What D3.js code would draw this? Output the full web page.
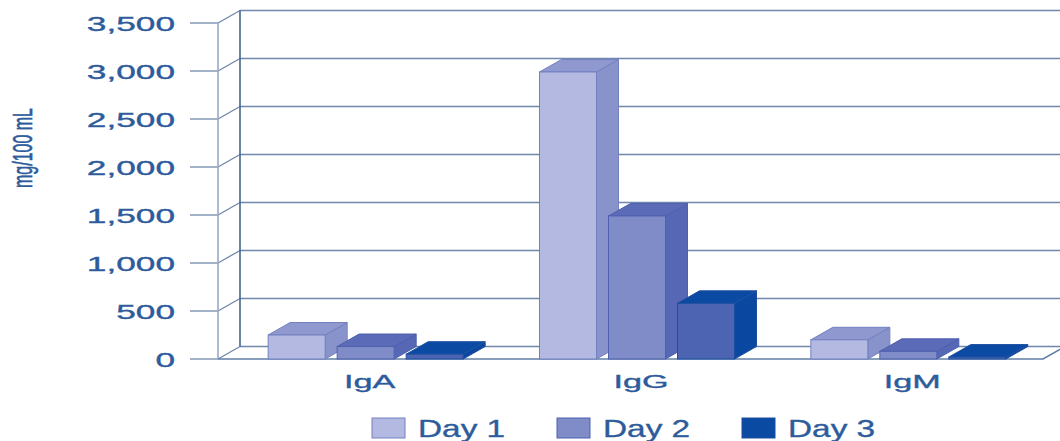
<!DOCTYPE html>
<html>
<head>
<meta charset="utf-8">
<script src="https://cdn.jsdelivr.net/npm/d3@7"></script>
<style>
  html, body { margin: 0; padding: 0; background: #fff; }
  text { font-family: "Liberation Sans", Arial, sans-serif; stroke: #2d5b9b; stroke-width: 0.35px; }
</style>
</head>
<body>
<svg id="chart" width="1060" height="441"></svg>
<script>
const categories = ["IgA", "IgG", "IgM"];
const series = ["Day 1", "Day 2", "Day 3"];
const day1 = [250, 2990, 200];
const day2 = [130, 1490, 80];
const day3 = [50, 580, 20];
const yTicks = [0, 500, 1000, 1500, 2000, 2500, 3000, 3500];

const values = [day1, day2, day3];
const faces = [
  { front: "#b4b9e1", top: "#8f99d0", side: "#8893cb", edge: "#7380c0" },
  { front: "#7f8cc8", top: "#5b6bb8", side: "#5667b5", edge: "#4e60ae" },
  { front: "#4c64b2", top: "#0b4aa2", side: "#0a47a0", edge: "#1d4fa0" }
];
const textColor = "#2d5b9b";
const gridColor = "#7088ac";

const svg = d3.select("#chart");

// depth offset of the 3D box
const dx = 22, dy = -12.5;
const axisX = 218, floorRight = 1043;

const y = d3.scaleLinear().domain([0, 3500]).range([359, 23]);
const x0 = d3.scaleBand().domain(categories).range([230, 1044]);
const groupW = 195;
const x1 = d3.scaleBand().domain(series).range([0, groupW]).paddingInner(12 / 69);

const grid = svg.append("g");

// back wall gridlines + left wall diagonals + tick marks
yTicks.forEach(t => {
  const yy = y(t);
  grid.append("line")
    .attr("x1", axisX + dx).attr("x2", 1070)
    .attr("y1", yy + dy).attr("y2", yy + dy)
    .attr("stroke", gridColor).attr("stroke-width", 1.3);
  grid.append("line")
    .attr("x1", axisX).attr("y1", yy)
    .attr("x2", axisX + dx).attr("y2", yy + dy)
    .attr("stroke", gridColor).attr("stroke-width", 1.3);
  grid.append("line")
    .attr("x1", 190).attr("x2", axisX)
    .attr("y1", yy).attr("y2", yy)
    .attr("stroke", gridColor).attr("stroke-width", 1.3);
});

// walls
grid.append("line")
  .attr("x1", axisX + dx).attr("x2", axisX + dx)
  .attr("y1", y(3500) + dy).attr("y2", y(0) + dy)
  .attr("stroke", "#46668f").attr("stroke-width", 1.6);
grid.append("line")
  .attr("x1", axisX).attr("x2", axisX)
  .attr("y1", y(3500)).attr("y2", y(0))
  .attr("stroke", "#9aa9c6").attr("stroke-width", 1.6);

// floor front edge
grid.append("path")
  .attr("d", `M${axisX},${y(0)} L${floorRight},${y(0)} L${floorRight + dx},${y(0) + dy}`)
  .attr("fill", "none")
  .attr("stroke", "#5f7ea6").attr("stroke-width", 1.6);

// tick labels
grid.selectAll(".tick-label")
  .data(yTicks)
  .join("text")
  .attr("class", "tick-label")
  .attr("transform", d => `translate(175,${y(d) + 7.5}) scale(1.72,1)`)
  .attr("text-anchor", "end")
  .attr("font-size", 20.5)
  .attr("fill", textColor)
  .text(d => d3.format(",")(d));

// y title
svg.append("text")
  .attr("transform", "translate(32,148) scale(1.75,1) rotate(-90)")
  .attr("text-anchor", "middle")
  .attr("font-size", 16)
  .attr("fill", textColor)
  .style("font-family", '"Liberation Sans Narrow", "Liberation Sans", Arial, sans-serif')
  .text("mg/100 mL");

// bars, left to right so each covers the side of the one before
const bars = svg.append("g");
categories.forEach((c, ci) => {
  const gx = x0(c) + x0.bandwidth() / 2 - groupW / 2;
  series.forEach((s, si) => {
    const v = values[si][ci];
    const f = faces[si];
    const x = gx + x1(s);
    const w = x1.bandwidth();
    const yt = y(v), yb = y(0);
    const g = bars.append("g");
    g.append("path")
      .attr("d", `M${x + w},${yt} L${x + w + dx},${yt + dy} L${x + w + dx},${yb + dy} L${x + w},${yb} Z`)
      .attr("fill", f.side).attr("stroke", f.edge).attr("stroke-width", 1);
    g.append("path")
      .attr("d", `M${x},${yt} L${x + dx},${yt + dy} L${x + w + dx},${yt + dy} L${x + w},${yt} Z`)
      .attr("fill", f.top).attr("stroke", f.edge).attr("stroke-width", 1);
    g.append("rect")
      .attr("x", x).attr("y", yt)
      .attr("width", w).attr("height", yb - yt)
      .attr("fill", f.front).attr("stroke", f.edge).attr("stroke-width", 1);
  });
});

// category labels
svg.selectAll(".cat-label")
  .data(categories)
  .join("text")
  .attr("class", "cat-label")
  .attr("transform", d => `translate(${x0(d) + x0.bandwidth() / 2 + 4},388) scale(1.8,1)`)
  .attr("text-anchor", "middle")
  .attr("font-size", 19)
  .attr("fill", textColor)
  .text(d => d);

// legend
const legend = svg.append("g");
series.forEach((s, i) => {
  const lx = 372 + i * 185;
  legend.append("rect")
    .attr("x", lx).attr("y", 418)
    .attr("width", 33).attr("height", 20)
    .attr("fill", i === 2 ? faces[2].top : faces[i].front)
    .attr("stroke", faces[i].edge).attr("stroke-width", 1);
  legend.append("text")
    .attr("transform", `translate(${lx + 46},437) scale(1.42,1)`)
    .attr("font-size", 23.5)
    .attr("fill", textColor)
    .text(s);
});
</script>
</body>
</html>
